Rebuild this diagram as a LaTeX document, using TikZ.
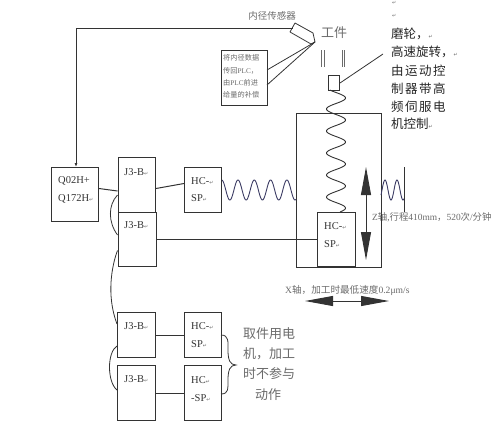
\documentclass[tikz,border=0pt]{standalone}
\usepackage{fontspec}
\setmainfont{Liberation Serif}
\newfontfamily\cjk{Noto Sans CJK SC}
\newfontfamily\djv{DejaVu Sans}
\usetikzlibrary{arrows.meta,decorations.pathreplacing,positioning}
\definecolor{ink}{gray}{0.2}
\definecolor{soft}{gray}{0.42}
\definecolor{coil}{RGB}{60,60,100}
\newcommand{\rtn}{{\djv\fontsize{5}{5}\selectfont\textcolor{soft}{↵}}}
\tikzset{
  box/.style={draw=ink,line width=1pt,rectangle,inner sep=0pt,anchor=north west},
  lbl/.style={font=\fontsize{10.5}{12}\selectfont,text=ink,inner sep=0pt,anchor=west},
  wire/.style={draw=ink,line width=1pt},
  thin wire/.style={draw=ink,line width=0.8pt},
  big tip/.style={{Triangle[length=28pt,width=10pt]}-{Triangle[length=28pt,width=10pt]}},
  cn/.style={font=\cjk\fontsize{12.5}{14}\selectfont,text=black!85,inner sep=0pt,anchor=west},
  gry/.style={text=soft,inner sep=0pt},
}
\begin{document}
\begin{tikzpicture}[x=1pt,y=-1pt]
\useasboundingbox (0,0) rectangle (500,426);
% boxes
\node[box,minimum width=47pt,minimum height=54pt] (q) at (51,167) {};
\node[box,minimum width=37.5pt,minimum height=55pt] (j1) at (117.5,157) {};
\node[box,minimum width=38.5pt,minimum height=54pt] (j2) at (117.5,212) {};
\node[box,minimum width=37pt,minimum height=45pt] (h1) at (184,167) {};
\node[box,minimum width=38pt,minimum height=45pt] (j3) at (117,312) {};
\node[box,minimum width=38pt,minimum height=55pt] (j4) at (117,365) {};
\node[box,minimum width=37pt,minimum height=45pt] (h3) at (184,312) {};
\node[box,minimum width=37pt,minimum height=55pt] (h4) at (184,365) {};
\node[box,minimum width=85pt,minimum height=154pt] (frame) at (296,113) {};
\node[box,minimum width=38pt,minimum height=54pt,fill=white] (h2) at (317,212) {};
\node[box,minimum width=11pt,minimum height=15pt] (wheel) at (328,75) {};
\node[box,minimum width=46pt,minimum height=55pt,line width=0.9pt] (note) at (221,50) {};
% box text
\node[lbl] (tq1) at (58,181) {Q02H+};
\node[lbl] (tq2) at (58,199) {Q172H\rtn};
\node[lbl] (tj1) at (124,172) {J3-B\rtn};
\node[lbl] (tj2) at (124,225) {J3-B\rtn};
\node[lbl] (th1a) at (191,181) {HC-\rtn};
\node[lbl] (th1b) at (191,198) {SP\rtn};
\node[lbl] (tj3) at (124,326) {J3-B\rtn};
\node[lbl] (tj4) at (124,379) {J3-B\rtn};
\node[lbl] (th3a) at (191,326) {HC-\rtn};
\node[lbl] (th3b) at (191,344) {SP\rtn};
\node[lbl] (th4a) at (191,380) {HC\rtn};
\node[lbl] (th4b) at (191,398) {-SP\rtn};
\node[lbl] (th2a) at (324,226) {HC-\rtn};
\node[lbl] (th2b) at (324,244) {SP\rtn};
% note text
\node[gry,font=\cjk\fontsize{7.2}{8}\selectfont,anchor=west] (n1) at (223,58) {将内径数据};
\node[gry,font=\fontsize{7.2}{8}\selectfont,anchor=west] (n2) at (223,71) {{\cjk 传回}PLC{\cjk ，}};
\node[gry,font=\fontsize{7.2}{8}\selectfont,anchor=west] (n3) at (223,83) {{\cjk 由}PLC{\cjk 前进}};
\node[gry,font=\cjk\fontsize{7.2}{8}\selectfont,anchor=west] (n4) at (223,95) {给量的补偿};
% sensor
\coordinate (s1) at (295,23);
\coordinate (s2) at (290,32);
\coordinate (s3) at (311,44);
\coordinate (s4) at (315,42);
\coordinate (s5) at (313,33);
\draw[thin wire,line join=round] (s1) -- (s2) -- (s3) -- (s4) -- (s5) -- cycle;
\coordinate (sw) at (292.5,28);
\coordinate (corner) at (76,28);
\draw[thin wire,-{Latex[length=4pt,width=3pt]}] (sw) -- (corner) -- (q.north -| corner);
\coordinate (nt1) at (267,70);
\coordinate (nt2) at (267,85);
\draw[thin wire] (s4) -- (nt1);
\draw[thin wire] (s4) -- (nt2);
\coordinate (lead) at (383,54);
\draw[thin wire] (wheel.east) -- (lead);
% workpiece lines
\foreach \x in {321.5,324,342,344.5} \draw[draw=soft,line width=0.8pt] (\x,50) -- (\x,67);
% connectors
\draw[wire] ([yshift=6pt]q.east) -- ([yshift=-6pt]j1.west);
\draw[wire] ([yshift=-3.5pt]j1.east) -- ([yshift=6.5pt]h1.west);
\draw[wire] (j2.east) -- (h2.west);
\draw[wire] (j3.east) -- (h3.west);
\draw[wire] (j4.east) -- (h4.west);
\draw[thin wire] ([yshift=-10pt]j1.west) .. controls (108,205) and (108,222) .. ([yshift=4.5pt]j2.west);
\draw[thin wire] ([yshift=-11pt]j2.west) .. controls (112,265) and (106,295) .. ([yshift=11pt]j3.west);
\draw[thin wire] ([yshift=-11pt]j3.west) .. controls (107,352) and (107,382) .. ([yshift=3pt]j4.west);
% springs
\draw[coil,line width=0.9pt,domain=222:296,samples=150,smooth] plot (\x,{190-10*cos(22.09*(\x-238))});
\draw[coil,line width=0.9pt,domain=381:404,samples=60,smooth] plot (\x,{190-10*cos(30*(\x-385))});
\draw[ink,line width=0.9pt,domain=90:212,samples=200,smooth] plot ({336+9.5*cos(16.36*(\x-98))},\x);
\coordinate (stA) at (404,167);
\coordinate (stB) at (404,212);
\draw[thin wire] (stA) -- (stB);
% motion arrows
\coordinate (zt) at (366,167);
\coordinate (zb) at (366,260);
\coordinate (xl) at (305,301);
\coordinate (xr) at (389,301);
\draw[line width=0.9pt,draw=ink,fill=black,big tip] (zt) -- (zb);
\draw[line width=0.9pt,draw=ink,fill=black,big tip] (xl) -- (xr);
% brace
\coordinate (ba) at (221,335);
\coordinate (bb) at (221,394);
\draw[thin wire] (ba) .. controls (229,335) and (228,342) .. (228,350) .. controls (228,360) and (230,365) .. (236,365) .. controls (230,365) and (228,370) .. (228,380) .. controls (228,388) and (229,394) .. (bb);
% labels
\node[gry,font=\cjk\fontsize{9.5}{11}\selectfont] (tsens) at (272,16) {内径传感器};
\node[gry,font=\cjk\fontsize{13}{15}\selectfont] (twork) at (334,33) {工件};
\node[lbl] (r0) at (392,3) {\rtn};
\node[lbl] (r1) at (392,16) {\rtn};
\node[cn] (c1) at (391,34) {磨轮，\rtn};
\node[cn] (c2) at (391,52) {高速旋转，\rtn};
\node[cn] (c3) at (391,71) {由\hspace{1.5pt}运\hspace{1.5pt}动\hspace{1.5pt}控};
\node[cn] (c4) at (391,89) {制\hspace{1.5pt}器\hspace{1.5pt}带\hspace{1.5pt}高};
\node[cn] (c5) at (391,107) {频\hspace{1.5pt}伺\hspace{1.5pt}服\hspace{1.5pt}电};
\node[cn] (c6) at (391,124) {机控制\rtn};
\node[gry,font=\fontsize{9.4}{11}\selectfont,anchor=west] (tz) at (372,217) {Z{\cjk 轴},{\cjk 行程}410mm{\cjk ，}520{\cjk 次}/{\cjk 分钟}};
\node[gry,font=\fontsize{9.6}{11}\selectfont,anchor=west] (tx) at (285,290) {X{\cjk 轴，加工时最低速度}0.2μm/s};
\node[gry,font=\cjk\fontsize{13}{15}\selectfont,anchor=west] (g1) at (243,334) {取件用电};
\node[gry,font=\cjk\fontsize{13}{15}\selectfont,anchor=west] (g2) at (243,354) {机，加工};
\node[gry,font=\cjk\fontsize{13}{15}\selectfont,anchor=west] (g3) at (243,374) {时不参与};
\node[gry,font=\cjk\fontsize{13}{15}\selectfont] (g4) at (268,395) {动作};
\end{tikzpicture}
\end{document}
